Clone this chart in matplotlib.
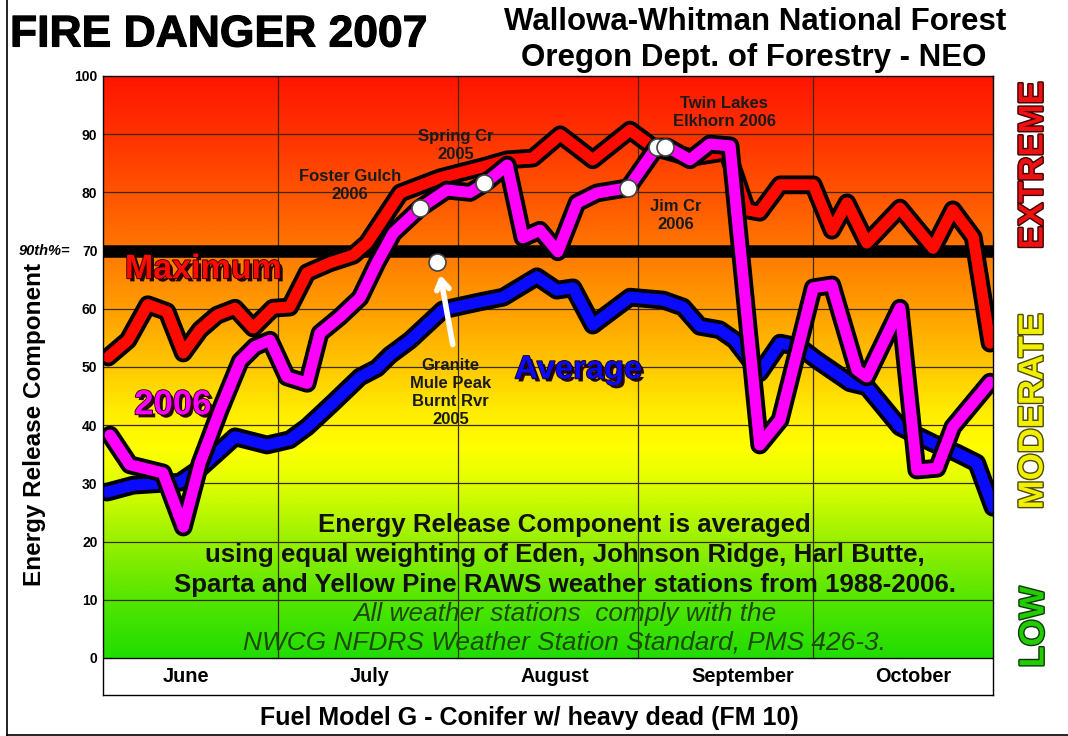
import numpy as np
import matplotlib
matplotlib.use("Agg")
import matplotlib.pyplot as plt
import matplotlib.patheffects as pe
from matplotlib.colors import LinearSegmentedColormap
from matplotlib.lines import Line2D

plt.rcParams['font.family'] = ['Liberation Sans', 'DejaVu Sans']

# ---------------- data (x = day since June 1) ----------------
months = ['June', 'July', 'August', 'September', 'October']
month_days = [30, 31, 31, 30, 31]

max_days = [0.9, 4.3, 7.7, 11.0, 13.8, 16.7, 19.6, 22.7, 25.8, 29.2, 32.1, 35.1, 39.0, 43.0,
            45.4, 51.1, 57.9, 65.3, 69.5, 73.9, 78.6, 84.2, 90.6, 94.5, 100.9, 107.3, 110.7,
            112.9, 116.4, 122.1, 125.3, 127.9, 131.3, 137.0, 142.7, 146.1, 149.6, 152.5]
max_vals = [51.7, 54.6, 60.7, 59.5, 52.4, 56.4, 58.9, 60.1, 56.7, 60.1, 60.3, 66.2, 67.9, 69.2,
            71.3, 79.9, 82.5, 84.4, 85.6, 85.9, 89.9, 85.6, 90.7, 87.8, 86.0, 87.0, 77.0,
            76.6, 81.3, 81.3, 73.5, 78.2, 71.3, 77.3, 70.4, 77.0, 72.3, 54.1]

y2006_days = [1.2, 4.6, 10.3, 13.8, 16.7, 20.1, 23.6, 26.1, 28.7, 31.6, 35.1, 37.3, 40.7, 44.2,
              47.1, 49.9, 54.5, 59.1, 63.1, 65.7, 69.5, 72.2, 75.1, 78.2, 81.5, 84.9, 90.3,
              95.2, 97.0, 100.9, 104.3, 107.8, 112.9, 116.4, 122.1, 125.3, 129.6, 131.3,
              137.0, 139.9, 143.4, 146.1, 152.5]
y2006_vals = [38.3, 33.2, 31.8, 22.5, 33.5, 42.5, 51.0, 53.5, 54.6, 48.3, 47.2, 55.8, 58.6, 61.9,
              67.9, 73.0, 77.3, 80.4, 80.0, 81.6, 84.7, 72.2, 73.5, 69.8, 78.2, 79.9, 80.8,
              87.8, 87.8, 85.6, 88.3, 88.0, 36.6, 40.9, 63.6, 64.1, 49.5, 48.3,
              60.1, 32.3, 32.6, 39.7, 47.4]

avg_days = [0.7, 5.2, 13.2, 16.7, 19.6, 22.7, 28.2, 32.1, 35.1, 39.5, 44.2, 47.1, 49.3, 52.8,
            58.4, 64.8, 68.8, 74.6, 78.0, 80.8, 84.2, 90.6, 96.3, 99.7, 102.6, 106.0, 108.6,
            112.9, 116.4, 119.8, 122.7, 128.4, 131.3, 137.0, 142.7, 146.8, 150.2, 153.0]
avg_vals = [28.5, 29.7, 30.2, 32.6, 35.2, 38.0, 36.6, 37.5, 39.7, 43.8, 48.3, 49.8, 52.0, 54.6,
            59.8, 61.2, 62.0, 65.5, 63.2, 63.6, 57.2, 62.0, 61.5, 60.3, 57.0, 56.4, 54.6,
            49.0, 54.1, 53.4, 51.2, 47.3, 46.6, 39.7, 36.9, 35.2, 33.5, 25.9]

threshold_90th = 70

marker_days = [54.5, 65.5, 90.3, 95.2, 96.6, 57.4]
marker_vals = [77.3, 81.6, 80.8, 87.8, 87.8, 68.0]

yticks = [0, 10, 20, 30, 40, 50, 60, 70, 80, 90, 100]

# month label positions (layout, in days)
month_label_x = [14.3, 45.9, 77.7, 109.9, 139.3]

# ---------------- figure ----------------
fig = plt.figure(figsize=(10.68, 7.36), dpi=100)
fig.patch.set_facecolor('white')
ax = fig.add_axes([103/1068, 1-695/736, 890/1068, 619/736])

total_days = sum(month_days)
ax.set_xlim(0, total_days)
ax.set_ylim(-6.36, 100)

# gradient background
stops = [(0.00, '#22DD00'), (0.10, '#55E600'), (0.20, '#99F000'), (0.30, '#E0FF00'),
         (0.36, '#FFFF00'), (0.42, '#FFEE00'), (0.50, '#FFC800'), (0.60, '#FF9E00'),
         (0.70, '#FF7800'), (0.80, '#FF5400'), (0.90, '#FF3300'), (1.00, '#FF1500')]
cmap = LinearSegmentedColormap.from_list('fire', stops)
grad = np.linspace(0, 1, 400).reshape(-1, 1)
ax.imshow(grad, extent=[0, total_days, 0, 100], origin='lower', aspect='auto',
          cmap=cmap, zorder=0, interpolation='bilinear')

# grid
for yv in yticks[1:-1]:
    ax.plot([0, total_days], [yv, yv], color='#3a2a10', lw=0.9, zorder=1)
bounds = np.cumsum(month_days)[:-1]
for b in bounds:
    ax.plot([b, b], [0, 100], color='#3a2a10', lw=0.9, zorder=1)
ax.plot([0, total_days], [0, 0], color='black', lw=1.0, zorder=1)

# 90th percentile line
ax.plot([0, total_days], [threshold_90th, threshold_90th], color='black', lw=9,
        solid_capstyle='butt', zorder=2)

def outlined(color):
    return dict(color=color, lw=8, solid_joinstyle='round', solid_capstyle='round',
                path_effects=[pe.Stroke(linewidth=13.5, foreground='black',
                                        joinstyle='round', capstyle='round'), pe.Normal()])

ax.plot(max_days, max_vals, zorder=3, **outlined('#FF0A00'))
ax.plot(avg_days, avg_vals, zorder=4, **outlined('#0A0AFF'))
ax.plot(y2006_days, y2006_vals, zorder=5, **outlined('#FF00FF'))

ax.scatter(marker_days, marker_vals, s=150, facecolor='white', edgecolor='#444444',
           linewidth=1.2, zorder=7)

# arrow to Granite marker
ax.annotate('', xy=(57.9, 66.3), xytext=(60.2, 53.4),
            arrowprops=dict(arrowstyle='->,head_length=0.7,head_width=0.45',
                            color='white', lw=4), zorder=7)

# axes styling
ax.set_yticks(yticks)
ax.set_yticklabels([str(v) for v in yticks], fontsize=10, fontweight='bold')
ax.tick_params(axis='y', length=0, pad=4)
ax.set_xticks([])
for s in ax.spines.values():
    s.set_color('black')
    s.set_linewidth(1.0)
    s.set_zorder(10)

ax.text(-5.6, threshold_90th, '90th%=', ha='right', va='center', fontsize=10.5,
        fontweight='bold', fontstyle='italic')

# month labels
for m, mx in zip(months, month_label_x):
    ax.text(mx, -3.1, m, ha='center', va='center', fontsize=14.3, fontweight='bold')

# series labels
shadow = lambda: [pe.Stroke(linewidth=1.2, foreground='#220000'),
                  pe.SimplePatchShadow(offset=(2.2, -2.2), shadow_rgbFace='#1a0000', alpha=0.95),
                  pe.Normal()]
ax.text(17.2, 66.7, 'Maximum', color='#FF0A00', fontsize=24.5, fontweight='heavy',
        ha='center', va='center', path_effects=shadow(), zorder=8)
ax.text(12.0, 43.5, '2006', color='#FF00FF', fontsize=25, fontweight='heavy',
        ha='center', va='center', path_effects=shadow(), zorder=8)
ax.text(81.7, 49.5, 'Average', color='#0A0AFF', fontsize=23.5, fontweight='heavy',
        ha='center', va='center', path_effects=shadow(), zorder=8)

# site annotations
ann_kw = dict(ha='center', va='center', fontsize=12, fontweight='bold', color='#1a1a1a',
              linespacing=1.25, zorder=8)
ax.text(42.5, 81.1, 'Foster Gulch\n2006', **ann_kw)
ax.text(60.7, 88.1, 'Spring Cr\n2005', **ann_kw)
ax.text(106.8, 93.8, 'Twin Lakes\nElkhorn 2006', **ann_kw)
ax.text(98.5, 76.1, 'Jim Cr\n2006', **ann_kw)
ax.text(59.7, 45.7, 'Granite\nMule Peak\nBurnt Rvr\n2005', **ann_kw)

# note block
note_x = 79.4
bold_kw = dict(ha='center', va='center', fontsize=18.6, fontweight='bold', color='#111111',
               zorder=8)
ital_kw = dict(ha='center', va='center', fontsize=18.9, fontstyle='italic', color='#1d4a08',
               zorder=8)
ax.text(note_x, 22.9, 'Energy Release Component is averaged', **bold_kw)
ax.text(note_x, 17.7, 'using equal weighting of Eden, Johnson Ridge, Harl Butte,', **bold_kw)
ax.text(note_x, 12.5, 'Sparta and Yellow Pine RAWS weather stations from 1988-2006.', **bold_kw)
ax.text(note_x, 7.6, 'All weather stations  comply with the', **ital_kw)
ax.text(note_x, 2.6, 'NWCG NFDRS Weather Station Standard, PMS 426-3.', **ital_kw)

# titles
fig.text(10/1068, 1-35/736, 'FIRE DANGER 2007', ha='left', va='center', fontsize=32,
         fontweight='bold', path_effects=[pe.withStroke(linewidth=0.8, foreground='black')])
fig.text(755/1068, 1-22/736, 'Wallowa-Whitman National Forest', ha='center', va='center',
         fontsize=22.5, fontweight='bold')
fig.text(754/1068, 1-58/736, 'Oregon Dept. of Forestry - NEO', ha='center', va='center',
         fontsize=22.5, fontweight='bold')

fig.text(35/1068, 1-425/736, 'Energy Release Component', rotation=90, ha='center',
         va='center', fontsize=17.5, fontweight='bold')
fig.text(529/1068, 1-718/736, 'Fuel Model G - Conifer w/ heavy dead (FM 10)', ha='center',
         va='center', fontsize=18, fontweight='bold')

# danger class labels
fig.text(1033/1068, 1-165/736, 'EXTREME', rotation=90, ha='center', va='center',
         fontsize=25, fontweight='bold', color='#EE1111',
         path_effects=[pe.withStroke(linewidth=2, foreground='#3a0000')])
fig.text(1033/1068, 1-411/736, 'MODERATE', rotation=90, ha='center', va='center',
         fontsize=25, fontweight='bold', color='#F2F000',
         path_effects=[pe.withStroke(linewidth=2, foreground='#4a4a00')])
fig.text(1034/1068, 1-627/736, 'LOW', rotation=90, ha='center', va='center',
         fontsize=25, fontweight='bold', color='#22CC00',
         path_effects=[pe.withStroke(linewidth=2, foreground='#0a3a00')])

# outer frame (left and bottom edges)
fig.add_artist(Line2D([7/1068, 7/1068], [0, 1], color='black', lw=1.2,
                      transform=fig.transFigure))
fig.add_artist(Line2D([7/1068, 1], [1/736, 1/736], color='black', lw=1.2,
                      transform=fig.transFigure))

fig.savefig('out.png', dpi=100)
